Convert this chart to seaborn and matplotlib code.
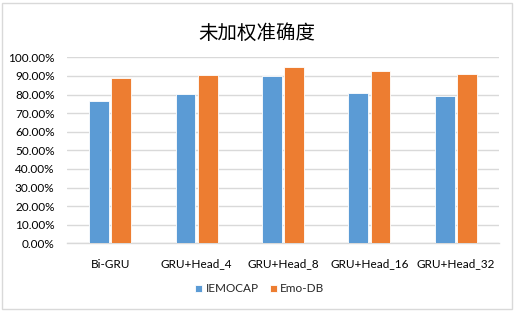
import matplotlib
matplotlib.use("Agg")
import matplotlib.pyplot as plt
import seaborn as sns
import pandas as pd
from matplotlib.patches import Rectangle
from matplotlib.ticker import PercentFormatter

categories = ["Bi-GRU", "GRU+Head_4", "GRU+Head_8", "GRU+Head_16", "GRU+Head_32"]
iemocap = [76.7, 80.4, 89.8, 80.8, 79.0]
emodb = [89.0, 90.6, 94.8, 92.6, 90.9]
series_names = ["IEMOCAP", "Emo-DB"]
yticks = [0, 10, 20, 30, 40, 50, 60, 70, 80, 90, 100]
title = "未加权准确度"

df = pd.DataFrame({
    "cat": categories * 2,
    "val": iemocap + emodb,
    "series": [series_names[0]] * len(categories) + [series_names[1]] * len(categories),
})

sns.set_theme(style="white")
plt.rcParams["font.family"] = ["Lato", "Noto Sans CJK SC", "DejaVu Sans"]

fig = plt.figure(figsize=(5.15, 3.12), dpi=100)
ax = fig.add_axes([67 / 515, 1 - 243.3 / 312, (499 - 67) / 515, (243.3 - 57.3) / 312])

palette = {"IEMOCAP": "#5B9BD5", "Emo-DB": "#ED7D31"}
sns.barplot(data=df, x="cat", y="val", hue="series", palette=palette, ax=ax,
            width=0.51, gap=0.1, edgecolor="white", linewidth=0.6, saturation=1,
            errorbar=None, zorder=3)

ax.set_ylim(0, 100)
ax.set_xlim(-0.5, len(categories) - 0.5)
ax.set_yticks(yticks)
ax.yaxis.set_major_formatter(PercentFormatter(decimals=2))
ax.grid(axis="y", color="#D9D9D9", linewidth=1, zorder=0)
ax.set_axisbelow(True)
for s in ["top", "right", "left"]:
    ax.spines[s].set_visible(False)
ax.spines["bottom"].set_color("#D9D9D9")
ax.spines["bottom"].set_linewidth(1)
ax.tick_params(axis="both", length=0, labelsize=8.5, colors="#000000")
ax.tick_params(axis="x", pad=11)
ax.tick_params(axis="y", pad=9)
ax.set_xlabel("")
ax.set_ylabel("")

leg = ax.legend(loc="center", bbox_to_anchor=(260 / 515, 1 - 289 / 312),
                bbox_transform=fig.transFigure, ncol=2, frameon=False,
                fontsize=8.5, handlelength=0.55, handleheight=0.55,
                handletextpad=0.3, columnspacing=1.0)

fig.text(257 / 515, 1 - 33 / 312, title, ha="center", va="center", fontsize=14,
         family=["Noto Sans CJK SC", "DejaVu Sans"], color="#000000")

fig.patches.append(Rectangle((2 / 515, 3 / 312), 510 / 515, 306 / 312,
                             transform=fig.transFigure, fill=False,
                             edgecolor="#D9D9D9", linewidth=1))

fig.savefig("out.png", dpi=100)
